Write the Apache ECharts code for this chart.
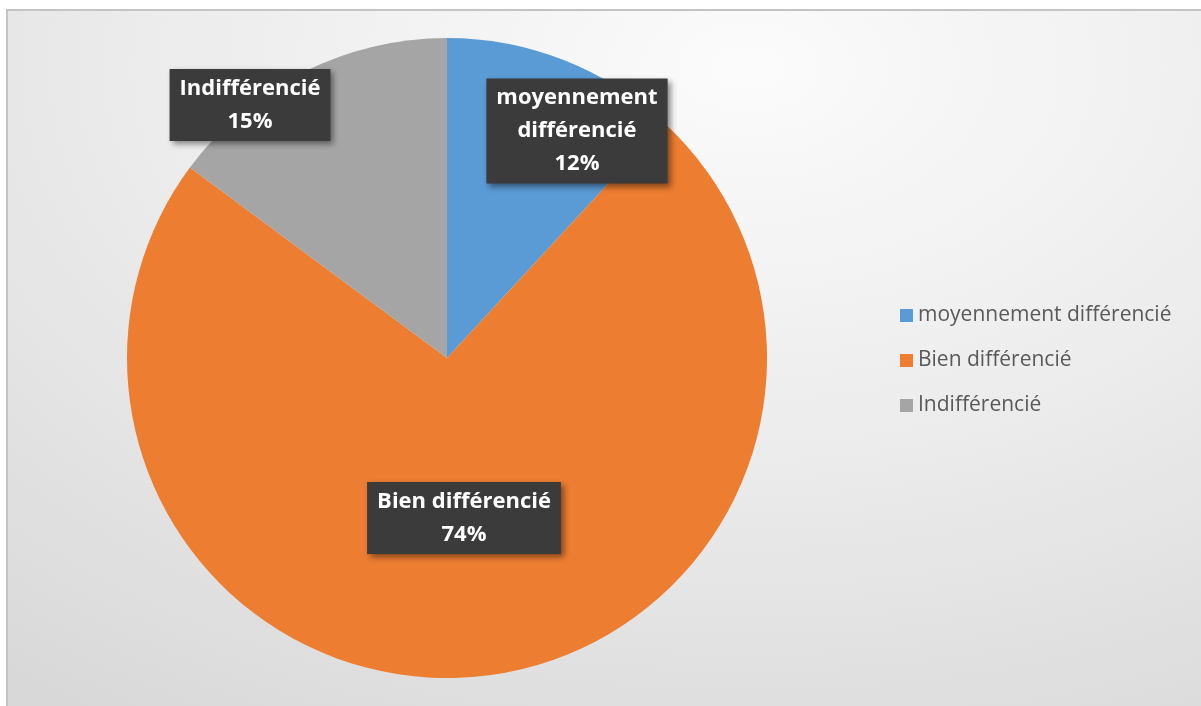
<!DOCTYPE html>
<html>
<head>
<meta charset="utf-8">
<script src="https://cdn.jsdelivr.net/npm/echarts@6/dist/echarts.min.js"></script>
<style>
  html, body { margin: 0; padding: 0; background: #fff; }
  #bg {
    position: absolute; left: 6px; top: 9px; width: 1194px; height: 700px;
    border-left: 2px solid #c4c4c4; border-top: 2px solid #c4c4c4; border-right: 1px solid #d8d8d8;
    background: radial-gradient(ellipse 110% 120% at 62% 8%, #fbfbfb 0%, #ececec 45%, #d5d5d5 100%);
  }
  #chart { position: absolute; left: 0; top: 0; width: 1201px; height: 706px; }
</style>
</head>
<body>
<div id="bg"></div>
<div id="chart"></div>
<script>
  // données
  const categories = ['moyennement différencié', 'Bien différencié', 'Indifférencié'];
  const values = [12, 74, 15];
  const colors = ['#5b9bd5', '#ed7d31', '#a5a5a5'];
  // positions des étiquettes (centre de la boîte)
  const labelPos = [[577, 131], [464, 518], [250, 105]];

  const myChart = echarts.init(document.getElementById('chart'));

  let data = [];
  for (let i = 0; i < categories.length; i++) {
    data.push({ name: categories[i], value: values[i], itemStyle: { color: colors[i] } });
  }

  const option = {
    backgroundColor: 'transparent',
    legend: {
      orient: 'vertical',
      left: 895,
      top: 300,
      itemWidth: 13,
      itemHeight: 13,
      itemGap: 24,
      icon: 'rect',
      textStyle: { fontFamily: 'Open Sans', fontSize: 21, color: '#595959' },
      data: categories
    },
    series: [{
      type: 'pie',
      center: [447, 358],
      radius: 320,
      startAngle: 90,
      clockwise: true,
      silent: true,
      itemStyle: { borderWidth: 0 },
      label: {
        show: true,
        position: 'inside',
        formatter: function (p) {
          const name = p.name === 'moyennement différencié' ? 'moyennement\ndifférencié' : p.name;
          return name + '\n' + p.value + '%';
        },
        fontFamily: 'Open Sans',
        fontWeight: 'bold',
        fontSize: 22,
        lineHeight: 33,
        color: '#fff',
        backgroundColor: '#3b3b3b',
        padding: [3, 10, 3, 10],
        shadowColor: 'rgba(0,0,0,0.45)',
        shadowBlur: 6,
        shadowOffsetX: 3,
        shadowOffsetY: 3
      },
      labelLine: { show: false },
      labelLayout: function (params) {
        const p = labelPos[params.dataIndex];
        return { x: p[0], y: p[1], align: 'center', verticalAlign: 'middle' };
      },
      data: data
    }]
  };

  myChart.setOption(option);
</script>
</body>
</html>
